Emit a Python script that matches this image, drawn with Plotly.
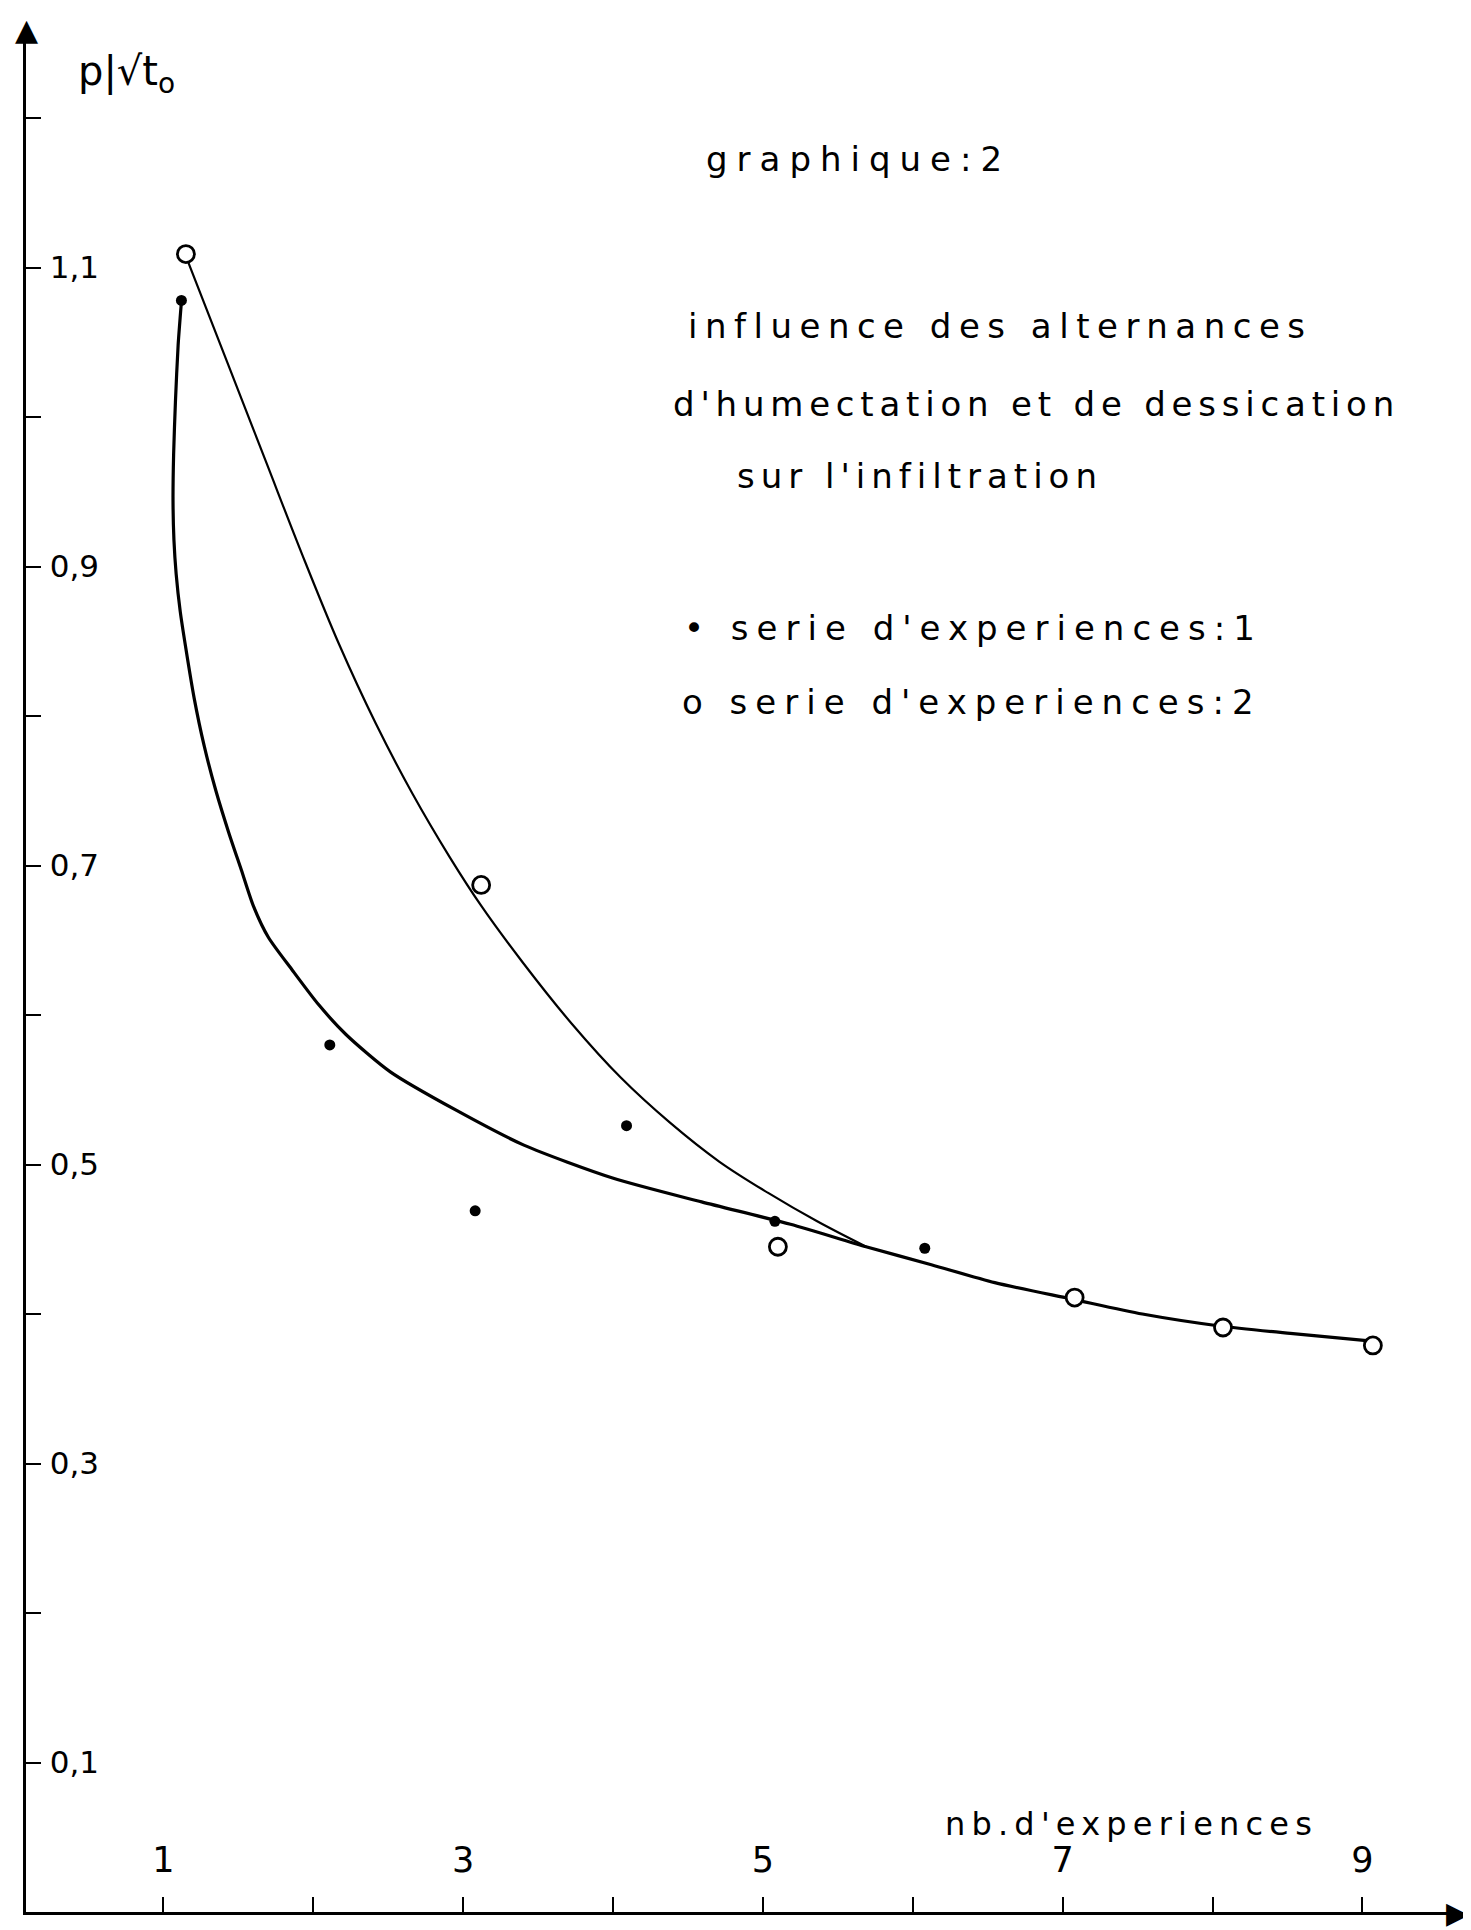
import plotly.graph_objects as go

# ---- data ----
s1_x = [1.12, 2.11, 3.08, 4.09, 5.08, 6.08]
s1_y = [1.078, 0.580, 0.469, 0.526, 0.462, 0.444]

s2_x = [1.15, 3.12, 5.10, 7.08, 8.07, 9.07]
s2_y = [1.109, 0.687, 0.445, 0.411, 0.391, 0.379]

# hand-drawn fitted curves
c1_x = [1.120, 1.098, 1.080, 1.068, 1.064, 1.070, 1.085, 1.112, 1.150, 1.205, 1.272,
        1.350, 1.436, 1.520, 1.600, 1.700, 1.860, 2.035, 2.218, 2.514, 2.959, 3.405,
        3.997, 4.591, 5.184, 5.688, 6.124, 6.547, 7.062, 7.532, 8.048, 8.519, 9.046]
c1_y = [1.077, 1.048, 1.010, 0.975, 0.944, 0.918, 0.895, 0.870, 0.845, 0.812, 0.780,
        0.750, 0.722, 0.697, 0.673, 0.652, 0.630, 0.607, 0.587, 0.562, 0.536, 0.513,
        0.491, 0.475, 0.460, 0.445, 0.433, 0.421, 0.410, 0.400, 0.392, 0.387, 0.382]

c2_x = [1.160, 1.436, 1.681, 1.926, 2.172, 2.417, 2.662, 2.908, 3.121, 3.399, 3.726,
        4.053, 4.380, 4.708, 5.035, 5.362, 5.689]
c2_y = [1.105, 1.034, 0.971, 0.908, 0.848, 0.795, 0.748, 0.706, 0.673, 0.635, 0.594,
        0.558, 0.528, 0.502, 0.481, 0.462, 0.445]

x_ticks = [1, 3, 5, 7, 9]
x_ticktext = ["1", "3", "5", "7", "9"]
y_ticks = [0.1, 0.3, 0.5, 0.7, 0.9, 1.1]
y_ticktext = ["0,1", "0,3", "0,5", "0,7", "0,9", "1,1"]

FONT = "DejaVu Sans"

fig = go.Figure()
fig.add_trace(go.Scatter(x=c1_x, y=c1_y, mode="lines",
                         line=dict(color="black", width=3.2, shape="spline", smoothing=0.7),
                         showlegend=False, hoverinfo="skip"))
fig.add_trace(go.Scatter(x=c2_x, y=c2_y, mode="lines",
                         line=dict(color="black", width=2.2, shape="spline", smoothing=1.0),
                         showlegend=False, hoverinfo="skip"))
fig.add_trace(go.Scatter(x=s1_x, y=s1_y, mode="markers",
                         marker=dict(symbol="circle", size=11, color="black"),
                         name="serie d'experiences:1", showlegend=False))
fig.add_trace(go.Scatter(x=s2_x, y=s2_y, mode="markers",
                         marker=dict(symbol="circle", size=17, color="white",
                                     line=dict(color="black", width=2.8)),
                         name="serie d'experiences:2", showlegend=False))


def sp(t, ls):
    return f"<span style='letter-spacing:{ls}px'>{t}</span>"


ann = [
    dict(text=sp("graphique:2", 9), x=0.5777, y=0.9327, size=34),
    dict(text=sp("influence des alternances", 7.5), x=0.6766, y=0.8443, size=34),
    dict(text=sp("d'humectation et de dessication", 5.8), x=0.7015, y=0.8028, size=34),
    dict(text=sp("sur l'infiltration", 6), x=0.6206, y=0.7645, size=34),
    dict(text=sp("• serie d'experiences:1", 8), x=0.6576, y=0.6831, size=34),
    dict(text=sp("o serie d'experiences:2", 8), x=0.6565, y=0.6437, size=34),
    dict(text=sp("nb.d'experiences", 6.2), x=0.7671, y=0.0470, size=32),
    dict(text="p|√t<sub>o</sub>", x=0.0700, y=0.9780, size=40),
]
for a in ann:
    fig.add_annotation(text=a["text"], x=a["x"], y=a["y"], xref="paper", yref="paper",
                       xanchor="center", yanchor="middle", showarrow=False,
                       font=dict(family=FONT, size=a["size"], color="black"))

# axis arrow heads
fig.add_annotation(text="▲", x=0, y=1.012, xref="paper", yref="paper",
                   xanchor="center", yanchor="top", showarrow=False,
                   font=dict(family=FONT, size=30, color="black"))
fig.add_annotation(text="▶", x=1.003, y=0, xref="paper", yref="paper",
                   xanchor="right", yanchor="middle", showarrow=False,
                   font=dict(family=FONT, size=30, color="black"))

fig.update_xaxes(range=[0.083, 9.698], showgrid=False, zeroline=False,
                 showline=True, linecolor="black", linewidth=3,
                 tickmode="array", tickvals=x_ticks, ticktext=x_ticktext,
                 ticks="inside", ticklen=15, tickwidth=2, tickcolor="black",
                 minor=dict(tick0=0, dtick=1, ticks="inside", ticklen=15,
                            tickwidth=2, tickcolor="black", showgrid=False),
                 ticklabelposition="inside", ticklabelstandoff=22,
                 tickfont=dict(family=FONT, size=35, color="black"))
fig.update_yaxes(range=[0, 1.2569], showgrid=False, zeroline=False,
                 showline=True, linecolor="black", linewidth=3,
                 tickmode="array", tickvals=y_ticks, ticktext=y_ticktext,
                 ticks="inside", ticklen=15, tickwidth=2, tickcolor="black",
                 minor=dict(tick0=0, dtick=0.1, ticks="inside", ticklen=15,
                            tickwidth=2, tickcolor="black", showgrid=False),
                 ticklabelposition="inside", ticklabelstandoff=12,
                 tickfont=dict(family=FONT, size=31, color="black"))

fig.update_layout(width=1471, height=1930,
                  margin=dict(l=18, r=12, t=25, b=26),
                  paper_bgcolor="white", plot_bgcolor="white",
                  showlegend=False)

fig.write_html("out.html")
